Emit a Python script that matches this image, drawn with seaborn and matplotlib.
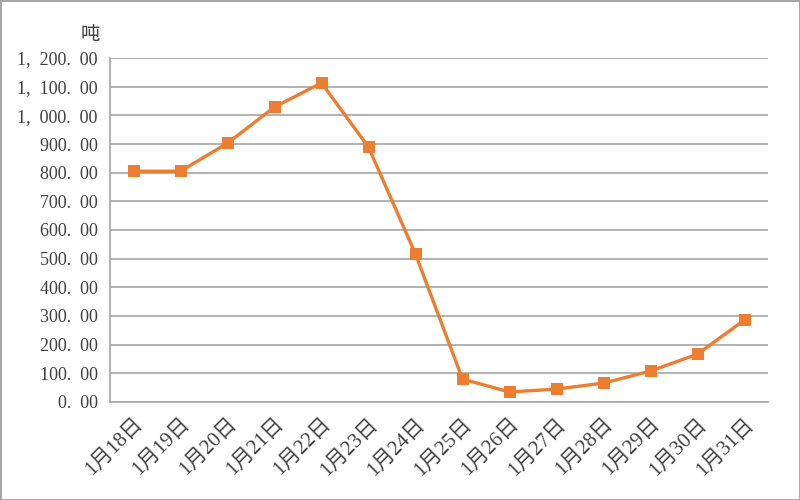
import numpy as np
import pandas as pd
import matplotlib
matplotlib.use("Agg")
import matplotlib.pyplot as plt
import seaborn as sns
from matplotlib.ticker import FuncFormatter, FixedLocator

# 数据
dates = ["1月18日", "1月19日", "1月20日", "1月21日", "1月22日", "1月23日", "1月24日",
         "1月25日", "1月26日", "1月27日", "1月28日", "1月29日", "1月30日", "1月31日"]
tons = [805, 805, 903, 1029, 1113, 889, 516, 80, 35, 45, 66, 108, 167, 286]
y_ticks = list(range(0, 1201, 100))
unit = "吨"

sns.set_style("white")
plt.rcParams['font.family'] = ['Liberation Serif', 'Noto Sans CJK SC', 'DejaVu Sans']

df = pd.DataFrame({"date": dates, "tons": tons})

fig = plt.figure(figsize=(8, 5), dpi=100)
ax = fig.add_axes([0.1375, 0.196, 0.8225, 0.688])

sns.lineplot(data=df, x="date", y="tons", sort=False, ax=ax, color="#ED7D31",
             linewidth=2.4, marker="s", markersize=9, markeredgewidth=0)

ax.set_ylim(0, 1200)
ax.set_xlim(-0.5, len(dates) - 0.5)
ax.set_yticks(y_ticks)
ax.yaxis.set_major_formatter(FuncFormatter(
    lambda v, p: f"{v:,.2f}".replace(",", ",  ").replace(".", ".  ")))
ax.grid(axis="y", color="#A6A6A6", linewidth=1.2)
ax.set_axisbelow(True)

ax.set_xticks(range(len(dates)))
ax.set_xticklabels(dates, rotation=45, ha="right", rotation_mode="anchor")
ax.xaxis.set_minor_locator(FixedLocator(np.arange(-0.5, len(dates), 1)))
ax.tick_params(axis="x", which="major", length=0, pad=9, labelsize=15, labelcolor="#404040")
ax.tick_params(axis="x", which="minor", length=6, color="#A6A6A6", width=1.2)
ax.tick_params(axis="y", length=6, color="#A6A6A6", width=1.2, labelsize=13, labelcolor="#404040", pad=3)

for s in ["top", "right"]:
    ax.spines[s].set_visible(False)
for s in ["left", "bottom"]:
    ax.spines[s].set_color("#A6A6A6")
    ax.spines[s].set_linewidth(1.2)

ax.set_xlabel("")
ax.set_ylabel("")
fig.text(0.113, 0.93, unit, fontsize=14, color="#404040", ha="center", va="center")

fig.patch.set_edgecolor("#A6A6A6")
fig.patch.set_linewidth(2)
fig.savefig("out.png", dpi=100, edgecolor=fig.get_edgecolor())
